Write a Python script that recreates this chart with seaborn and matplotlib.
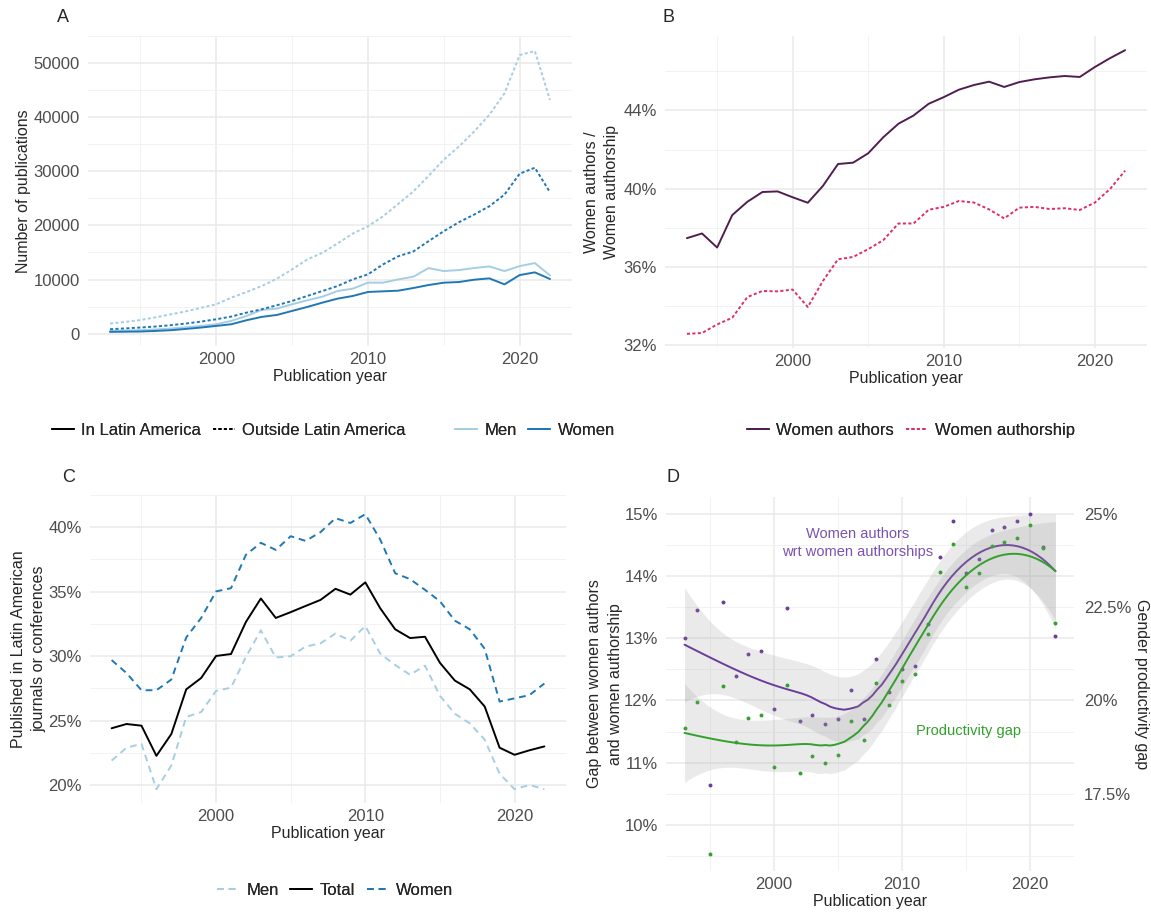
import numpy as np
import pandas as pd
import matplotlib
matplotlib.use("Agg")
import matplotlib.pyplot as plt
from matplotlib.lines import Line2D
from matplotlib.ticker import FuncFormatter
import seaborn as sns

sns.set_style("white")
plt.rcParams['font.family'] = ['Liberation Sans', 'DejaVu Sans']

years = list(range(1993, 2023))

# panel A - number of publications
men_in = [490, 550, 615, 760, 920, 1150, 1410, 1720, 2340, 3260, 4370, 4610, 5410, 6150, 6830,
          7870, 8300, 9410, 9410, 10020, 10520, 12120, 11560, 11750, 12120, 12420, 11560, 12480, 13040, 10760]
women_in = [310, 340, 370, 480, 615, 850, 1110, 1410, 1720, 2460, 3080, 3440, 4180, 4920, 5720,
            6460, 6950, 7690, 7810, 7930, 8430, 8980, 9410, 9530, 9960, 10210, 9100, 10820, 11320, 10090]
men_out = [1845, 2150, 2500, 3000, 3550, 4100, 4750, 5410, 6640, 7690, 8790, 10150, 11870, 13710, 14940,
           16670, 18500, 19860, 21700, 24000, 26300, 29200, 32170, 34620, 37390, 40470, 44460, 51540, 52280, 43230]
women_out = [800, 950, 1110, 1300, 1540, 1850, 2210, 2640, 3140, 3870, 4490, 5230, 6030, 6950, 7870,
             8790, 10020, 10950, 12800, 14300, 15200, 17100, 18940, 20600, 22020, 23550, 25710, 29580, 30690, 26140]

# panel B - share of women (%)
women_authors = [37.47, 37.71, 36.99, 38.65, 39.33, 39.83, 39.86, 39.56, 39.28, 40.14, 41.26, 41.33, 41.81, 42.63, 43.32,
                 43.74, 44.34, 44.68, 45.06, 45.30, 45.47, 45.20, 45.45, 45.59, 45.69, 45.76, 45.71, 46.22, 46.67, 47.08]
women_authorship = [32.58, 32.62, 33.06, 33.40, 34.46, 34.77, 34.75, 34.84, 33.95, 35.28, 36.39, 36.51, 36.91, 37.37, 38.22,
                    38.22, 38.92, 39.07, 39.37, 39.29, 38.94, 38.48, 39.03, 39.07, 38.96, 39.00, 38.91, 39.29, 39.98, 40.92]

# panel C - published in Latin American venues (%)
latam_men = [21.89, 22.89, 23.19, 19.67, 21.51, 25.28, 25.66, 27.30, 27.55, 29.94, 32.00, 29.89, 29.99, 30.74, 30.99,
             31.75, 31.19, 32.33, 30.19, 29.31, 28.55, 29.26, 26.92, 25.53, 24.78, 23.52, 20.88, 19.67, 20.00, 19.67]
latam_total = [24.40, 24.73, 24.60, 22.26, 23.95, 27.42, 28.30, 30.01, 30.16, 32.65, 34.47, 32.96, 33.41, 33.89, 34.36,
               35.22, 34.77, 35.72, 33.71, 32.08, 31.40, 31.50, 29.48, 28.10, 27.42, 26.09, 22.89, 22.34, 22.69, 22.99]
latam_women = [29.69, 28.68, 27.35, 27.35, 28.18, 31.45, 32.96, 35.02, 35.27, 37.86, 38.79, 38.24, 39.30, 38.94, 39.62,
               40.70, 40.33, 41.01, 39.04, 36.43, 35.97, 35.14, 34.26, 32.75, 32.08, 30.57, 26.47, 26.72, 26.97, 27.87]

# panel D - gaps (%); productivity gap is on the secondary axis
gap_authors = [13.00, 13.45, 10.64, 13.59, 12.40, 12.74, 12.79, 11.87, 13.48, 11.67, 11.77, 11.63, 11.70, 12.17, 11.70,
               12.66, 12.13, 12.51, 12.56, 13.23, 14.31, 14.89, 14.05, 14.27, 14.74, 14.79, 14.89, 15.00, 14.46, 13.04]
prod_gap = [19.27, 19.95, 15.88, 20.40, 18.90, 19.52, 19.60, 18.22, 20.42, 18.07, 18.52, 18.33, 18.55, 19.45, 18.95,
            20.48, 19.88, 20.53, 20.72, 21.78, 23.43, 24.20, 23.05, 23.42, 24.13, 24.25, 24.35, 24.70, 24.08, 22.07]

LIGHT = '#A6CEE3'
DARK = '#1F78B4'
PURPLE = '#6A3D9A'
GREEN = '#33A02C'
W, H = 1151, 913
LW = 1.4
DOT = (1.6, 1.2)
DASH = (3.5, 2.5)
TICK = 12
TITLE = 11.5

fig = plt.figure(figsize=(W / 100, H / 100), dpi=100)


def px_axes(l, r, t, b):
    return fig.add_axes([l / W, 1 - b / H, (r - l) / W, (b - t) / H])


def style(ax):
    sns.despine(ax=ax, left=True, bottom=True, right=True, top=True)
    ax.set_axisbelow(True)
    ax.grid(True, which='major', color='#EBEBEB', lw=1.2)
    ax.grid(True, which='minor', color='#F2F2F2', lw=0.7)
    ax.tick_params(which='both', length=0, labelsize=TICK, labelcolor='#4D4D4D', pad=6)
    ax.tick_params(axis='x', pad=4)
    ax.set_xlim(1991.55, 2023.45)
    ax.set_xticks([2000, 2010, 2020])
    ax.set_xticks([1995, 2005, 2015], minor=True)
    ax.set_xlabel('Publication year', fontsize=TITLE, labelpad=2)


pct = FuncFormatter(lambda v, p: f"{v:g}%")

# ---- A
axA = px_axes(88, 572, 36, 346)
dfA = pd.DataFrame({'year': years * 4,
                    'n': men_in + women_in + men_out + women_out,
                    'gender': ['Men'] * 30 + ['Women'] * 30 + ['Men'] * 30 + ['Women'] * 30,
                    'where': ['In Latin America'] * 60 + ['Outside Latin America'] * 60})
sns.lineplot(data=dfA, x='year', y='n', hue='gender', style='where',
             palette={'Men': LIGHT, 'Women': DARK},
             dashes={'In Latin America': '', 'Outside Latin America': DOT},
             lw=LW, legend=False, ax=axA)
style(axA)
axA.set_ylim(-2308, 55068)
axA.set_yticks(range(0, 50001, 10000))
axA.set_yticks(range(5000, 55001, 10000), minor=True)
axA.set_ylabel('Number of publications', fontsize=TITLE, labelpad=2)

# ---- B
axB = px_axes(665, 1147, 36, 348)
dfB = pd.DataFrame({'year': years * 2,
                    'v': women_authors + women_authorship,
                    's': ['Women authors'] * 30 + ['Women authorship'] * 30})
pal_b = {'Women authors': '#4F1F4F', 'Women authorship': '#DC2F67'}
sns.lineplot(data=dfB, x='year', y='v', hue='s', style='s', palette=pal_b,
             dashes={'Women authors': '', 'Women authorship': DOT}, lw=LW, legend=False, ax=axB)
style(axB)
axB.set_ylim(31.855, 47.805)
axB.set_yticks([32, 36, 40, 44])
axB.set_yticks([34, 38, 42, 46], minor=True)
axB.yaxis.set_major_formatter(pct)
axB.set_ylabel('Women authors /\nWomen authorship', fontsize=TITLE, linespacing=1.45, labelpad=3)

# ---- C
axC = px_axes(90, 566, 495, 803)
dfC = pd.DataFrame({'year': years * 3,
                    'v': latam_men + latam_total + latam_women,
                    'g': ['Men'] * 30 + ['Total'] * 30 + ['Women'] * 30})
pal_c = {'Men': LIGHT, 'Total': 'black', 'Women': DARK}
sns.lineplot(data=dfC, x='year', y='v', hue='g', style='g', palette=pal_c,
             dashes={'Men': DASH, 'Total': '', 'Women': DASH}, lw=LW, legend=False, ax=axC)
style(axC)
axC.set_ylim(18.6, 42.08)
axC.set_yticks([20, 25, 30, 35, 40])
axC.set_yticks([22.5, 27.5, 32.5, 37.5, 42.5], minor=True)
axC.yaxis.set_major_formatter(pct)
axC.set_ylabel('Published in Latin American\njournals or conferences', fontsize=TITLE,
               linespacing=1.45, labelpad=1)


# ---- D
def loess_band(x, y, grid, span=0.75):
    x = np.asarray(x, float)
    y = np.asarray(y, float)
    n = len(x)
    q = int(np.floor(n * span))

    def row(x0):
        d = np.abs(x - x0)
        h = np.sort(d)[q - 1]
        u = np.clip(d / h, 0, 1)
        w = (1 - u ** 3) ** 3
        X = np.column_stack([np.ones(n), x - x0, (x - x0) ** 2])
        XtW = X.T * w
        return np.linalg.solve(XtW @ X, XtW)[0]

    L = np.array([row(v) for v in x])
    res = y - L @ y
    M = (np.eye(n) - L).T @ (np.eye(n) - L)
    d1, d2 = np.trace(M), np.trace(M @ M)
    s = np.sqrt(res @ res / d1)
    df = d1 ** 2 / d2
    z = 1.959964
    t = z + (z ** 3 + z) / (4 * df) + (5 * z ** 5 + 16 * z ** 3 + 3 * z) / (96 * df ** 2)
    Lg = np.array([row(v) for v in grid])
    fit = Lg @ y
    se = s * np.sqrt((Lg ** 2).sum(1))
    return fit, fit - t * se, fit + t * se


def to_left(v):
    return 12 + (np.asarray(v, float) - 20) * 0.6


axD = px_axes(666, 1074, 497, 871)
grid = np.linspace(years[0], years[-1], 80)
prod_left = to_left(prod_gap)

dfD = pd.DataFrame({'year': years * 2, 'v': list(gap_authors) + list(prod_left),
                    'k': ['gap'] * 30 + ['prod'] * 30})
for key, col in [('gap', PURPLE), ('prod', GREEN)]:
    sub = dfD[dfD.k == key]
    sns.scatterplot(data=sub, x='year', y='v', color=col, s=8, linewidth=0, ax=axD, zorder=2)
    fit, lo, hi = loess_band(sub.year, sub.v, grid)
    axD.fill_between(grid, lo, hi, color='#999999', alpha=0.2, lw=0, zorder=2)
    axD.plot(grid, fit, color=col, lw=LW, zorder=2)

style(axD)
axD.set_ylim(9.26, 15.27)
axD.set_yticks([10, 11, 12, 13, 14, 15])
axD.set_yticks([9.5, 10.5, 11.5, 12.5, 13.5, 14.5], minor=True)
axD.yaxis.set_major_formatter(pct)
axD.set_ylabel('Gap between women authors\nand women authorship', fontsize=TITLE,
               linespacing=1.45, labelpad=1)
axD.text(2006.5, 14.53, 'Women authors\nwrt women authorships', color='#7B52AE', fontsize=10.5,
         ha='center', va='center', linespacing=1.35)
axD.text(2015.2, 11.51, 'Productivity gap', color=GREEN, fontsize=10.5, ha='center', va='center')

axD2 = axD.twinx()
sns.despine(ax=axD2, left=True, bottom=True, right=True, top=True)
lo_l, hi_l = axD.get_ylim()
axD2.set_ylim(20 + (lo_l - 12) / 0.6, 20 + (hi_l - 12) / 0.6)
axD2.set_yticks([17.5, 20, 22.5, 25])
axD2.yaxis.set_major_formatter(pct)
axD2.tick_params(length=0, labelsize=TICK, labelcolor='#4D4D4D', pad=7)
axD2.set_ylabel('Gender productivity gap', fontsize=TITLE, rotation=270, labelpad=13)

# panel letters
for lab, x, y in [('A', 57, 17), ('B', 662, 17), ('C', 62, 477), ('D', 666, 477)]:
    fig.text(x / W, 1 - y / H, lab, fontsize=13, ha='left', va='center')

# legends
leg_kw = dict(frameon=False, fontsize=12, handlelength=1.3, handletextpad=0.45,
              columnspacing=0.7, borderpad=0, loc='center')


def add_leg(handles, labels, cx, cy):
    lg = fig.legend(handles, labels, bbox_to_anchor=(cx / W, 1 - cy / H), ncol=len(handles), **leg_kw)
    fig.add_artist(lg)


add_leg([Line2D([], [], color='black', lw=LW),
         Line2D([], [], color='black', lw=LW, dashes=DOT)],
        ['In Latin America', 'Outside Latin America'], 229, 430)
add_leg([Line2D([], [], color=LIGHT, lw=LW), Line2D([], [], color=DARK, lw=LW)],
        ['Men', 'Women'], 535, 430)
add_leg([Line2D([], [], color=pal_b['Women authors'], lw=LW),
         Line2D([], [], color=pal_b['Women authorship'], lw=LW, dashes=DOT)],
        ['Women authors', 'Women authorship'], 911, 430)
add_leg([Line2D([], [], color=LIGHT, lw=LW, dashes=DASH),
         Line2D([], [], color='black', lw=LW),
         Line2D([], [], color=DARK, lw=LW, dashes=DASH)],
        ['Men', 'Total', 'Women'], 335, 890)

fig.savefig('out.png', dpi=100)
